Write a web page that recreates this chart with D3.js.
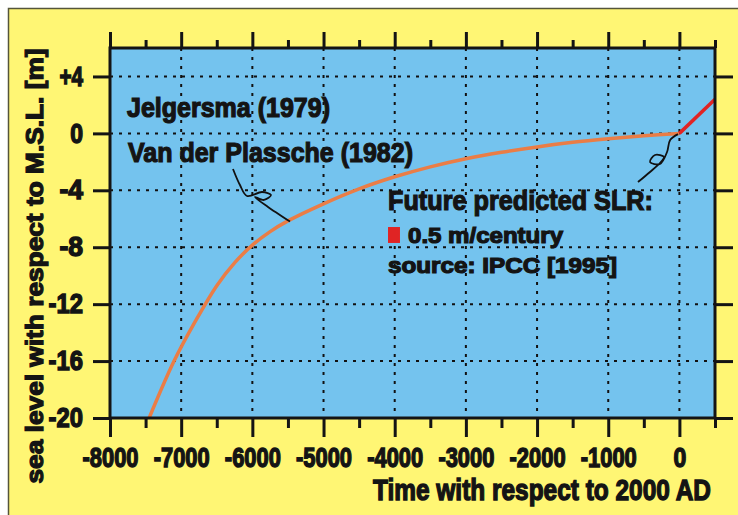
<!DOCTYPE html>
<html>
<head>
<meta charset="utf-8">
<script src="https://cdn.jsdelivr.net/npm/d3@7"></script>
<style>
  body { margin: 0; background: #fff; }
  text { font-family: "Liberation Sans", Arial, sans-serif; font-weight: bold; fill: #141414; stroke: #141414; stroke-width: 1.2px; }
  .tick text { font-size: 27px; stroke-width: 1.4px; }
</style>
</head>
<body>
<div id="chart"></div>
<script>
// data
var years  = [-7450, -7100, -6800, -6500, -6250, -6000, -5750, -5500, -5000, -4500, -4000, -3500, -3000, -2500, -2000, -1500, -1000, -500, 0];
var levels = [-20, -16, -13.2, -10.7, -9.1, -7.85, -6.9, -6.15, -4.95, -3.9, -3.05, -2.35, -1.78, -1.33, -0.95, -0.63, -0.38, -0.17, 0];
var futureYears  = [0, 500];
var futureLevels = [0, 2.4];
var xMajor = [-8000, -7000, -6000, -5000, -4000, -3000, -2000, -1000, 0];
var xMinor = [-7500, -6500, -5500, -4500, -3500, -2500, -1500, -500, 500];
var yTicks = [4, 0, -4, -8, -12, -16, -20];

// hand drawn leaders (year, metres)
var leader1 = [[-6272, -2.5], [-6174, -3.63], [-6075, -4.4], [-5864, -4.12], [-5738, -4.33], [-5836, -4.68], [-5963, -4.47], [-5780, -5.17], [-5471, -6.2]];
var leader2 = [[-582, -3.42], [-413, -2.71], [-273, -2.08], [-217, -1.66], [-343, -1.52], [-413, -2.01], [-273, -2.15], [-174, -1.31], [-130, -0.46], [-20, -0.05]];

var W = 738, H = 515;
var margin = {top: 48, right: 23, bottom: 97, left: 110},
    width = W - margin.left - margin.right,
    height = H - margin.top - margin.bottom;

var svg = d3.select("#chart").append("svg")
    .attr("width", W).attr("height", H);

svg.append("rect")
    .attr("x", 8.5).attr("y", 8.5)
    .attr("width", W + 10).attr("height", H + 10)
    .attr("fill", "#fff674")
    .attr("stroke", "#55553a").attr("stroke-width", 1.5);

var g = svg.append("g")
    .attr("transform", "translate(" + margin.left + "," + margin.top + ")");

var x = d3.scaleLinear().domain([-8000, 500]).range([0, width]);
var y = d3.scaleLinear().domain([-20, 6]).range([height, 0]);

g.append("rect")
    .attr("width", width).attr("height", height)
    .attr("fill", "#74c3ee");

// dotted grid
g.selectAll(".vgrid")
    .data(xMajor.slice(1))
    .enter().append("line")
        .attr("x1", d => x(d)).attr("x2", d => x(d))
        .attr("y1", 0).attr("y2", height)
        .attr("stroke", "#111").attr("stroke-width", 2)
        .attr("stroke-dasharray", "3,6");

g.selectAll(".hgrid")
    .data(yTicks.slice(0, -1))
    .enter().append("line")
        .attr("x1", 0).attr("x2", width)
        .attr("y1", d => y(d)).attr("y2", d => y(d))
        .attr("stroke", "#111").attr("stroke-width", 2)
        .attr("stroke-dasharray", "3,6");

var past = years.map((d, i) => [d, levels[i]]);
var future = futureYears.map((d, i) => [d, futureLevels[i]]);

g.append("path")
    .datum(past)
    .attr("fill", "none")
    .attr("stroke", "#ea7d46")
    .attr("stroke-width", 3.5)
    .attr("d", d3.line().curve(d3.curveCatmullRom)
        .x(d => x(d[0]))
        .y(d => y(d[1])));

g.append("path")
    .datum(future)
    .attr("fill", "none")
    .attr("stroke", "#e02424")
    .attr("stroke-width", 3.5)
    .attr("d", d3.line()
        .x(d => x(d[0]))
        .y(d => y(d[1])));

var leader = d3.line().curve(d3.curveCatmullRom)
    .x(d => x(d[0]))
    .y(d => y(d[1]));

[leader1, leader2].forEach(function(pts){
    g.append("path")
        .datum(pts)
        .attr("fill", "none")
        .attr("stroke", "#111")
        .attr("stroke-width", 1.8)
        .attr("d", leader);
});

// frame
g.append("rect")
    .attr("width", width).attr("height", height)
    .attr("fill", "none")
    .attr("stroke", "#141414").attr("stroke-width", 3);

// condensed look: fix each tick label's width from its length
function squeeze(sel) {
    sel.each(function(){
        var n = this.textContent.length;
        d3.select(this).attr("textLength", 10.8 * n + 2).attr("lengthAdjust", "spacingAndGlyphs");
    });
}

function styleAxis(ax) {
    ax.select(".domain").remove();
    ax.attr("font-family", null).attr("font-size", null);
    ax.selectAll("line").attr("stroke", "#141414").attr("stroke-width", 3);
}

// bottom axis
var xb = g.append("g")
    .attr("transform", "translate(0," + height + ")")
    .call(d3.axisBottom(x).tickValues(xMajor).tickSize(19).tickPadding(11)
        .tickFormat(d => d3.format("d")(d).replace("−", "-")));
styleAxis(xb);
xb.selectAll("text").call(squeeze);

var xbm = g.append("g")
    .attr("transform", "translate(0," + height + ")")
    .call(d3.axisBottom(x).tickValues(xMinor).tickSize(10).tickFormat(""));
styleAxis(xbm);

// top axis
var xt = g.append("g")
    .call(d3.axisTop(x).tickValues(xMajor).tickSize(16).tickFormat(""));
styleAxis(xt);
var xtm = g.append("g")
    .call(d3.axisTop(x).tickValues(xMinor).tickSize(8).tickFormat(""));
styleAxis(xtm);

// left axis
var yl = g.append("g")
    .call(d3.axisLeft(y).tickValues(yTicks).tickSize(17).tickPadding(10)
        .tickFormat(d => d > 0 ? "+" + d : String(d)));
styleAxis(yl);
yl.selectAll("text").call(squeeze);

// right axis
var yr = g.append("g")
    .attr("transform", "translate(" + width + ",0)")
    .call(d3.axisRight(y).tickValues(yTicks).tickSize(18).tickFormat(""));
styleAxis(yr);

// axis titles
svg.append("text")
    .attr("transform", "translate(373,500) scale(1,1.16)")
    .attr("font-size", 26)
    .attr("textLength", 338).attr("lengthAdjust", "spacingAndGlyphs")
    .text("Time with respect to 2000 AD");

svg.append("text")
    .attr("transform", "translate(43,266) rotate(-90)")
    .attr("text-anchor", "middle")
    .attr("font-size", 23)
    .attr("textLength", 435).attr("lengthAdjust", "spacingAndGlyphs")
    .text("sea level with respect to M.S.L. [m]");

// annotations
var notes = [
    {t: "Jelgersma (1979)", yr: -7761, m: 1.15, size: 27, w: 203},
    {t: "Van der Plassche (1982)", yr: -7747, m: -2.01, size: 28, w: 285},
    {t: "Future predicted SLR:", yr: -4094, m: -5.38, size: 28, w: 265},
    {t: "0.5 m/century", yr: -3813, m: -7.7, size: 22, w: 155},
    {t: "source: IPCC [1995]", yr: -4094, m: -9.81, size: 22, w: 229}
];
g.selectAll(".note")
    .data(notes)
    .enter().append("text")
        .attr("x", d => x(d.yr)).attr("y", d => y(d.m))
        .attr("font-size", d => d.size)
        .attr("textLength", d => d.w).attr("lengthAdjust", "spacingAndGlyphs")
        .text(d => d.t);

g.append("rect")
    .attr("x", x(-4094)).attr("y", y(-6.58))
    .attr("width", x(-3926) - x(-4094)).attr("height", y(-7.7) - y(-6.58))
    .attr("fill", "#e02424");
</script>
</body>
</html>
